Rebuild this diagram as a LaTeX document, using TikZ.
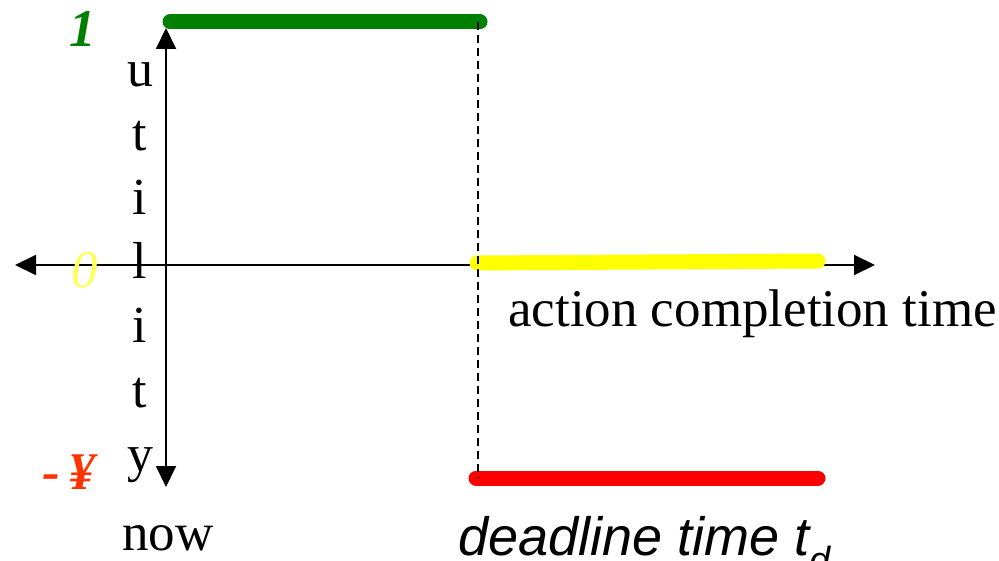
\documentclass[tikz,border=0pt]{standalone}
\usepackage{fontspec}
\setmainfont{Liberation Serif}
\newfontfamily\arialfont{Liberation Sans}
\usetikzlibrary{arrows.meta}
\definecolor{levelgreen}{RGB}{0,128,0}
\definecolor{levelyellow}{RGB}{255,255,0}
\definecolor{zeroyellow}{RGB}{255,255,90}
\definecolor{levelred}{RGB}{255,0,0}
\definecolor{labelred}{RGB}{255,51,0}
\tikzset{
  axis/.style={line width=2pt,-{Triangle[length=21pt,width=20pt]}},
  level/.style={line width=15pt,line cap=round},
  txt/.style={inner sep=0pt,anchor=base west,font=\fontsize{53}{60}\selectfont},
  letter/.style={inner sep=0pt,anchor=base,font=\fontsize{52}{60}\selectfont},
}
\begin{document}
\begin{tikzpicture}[x=1pt,y=-1pt]
\useasboundingbox (0,0) rectangle (999,561);
% axes
\coordinate (origin) at (166,265);
\coordinate (ytop) at (166,28);
\coordinate (ybot) at (166,487);
\coordinate (xleft) at (15,265);
\coordinate (xright) at (875,265);
\draw[axis] (origin) -- (ytop);
\draw[axis] (origin) -- (ybot);
\draw[axis] (origin) -- (xleft);
\draw[axis] (origin) -- (xright);
% utility levels
\coordinate (g1) at (170,22);
\coordinate (g2) at (480,22);
\coordinate (y1) at (477,263);
\coordinate (y2) at (818,261);
\coordinate (r1) at (476,478);
\coordinate (r2) at (818,478);
\draw[level,levelgreen] (g1) -- (g2);
\draw[level,levelyellow] (y1) -- (y2);
\draw[level,levelred] (r1) -- (r2);
% deadline marker
\coordinate (d1) at (478,22);
\coordinate (d2) at (478,478);
\draw[line width=1.2pt,dash pattern=on 8pt off 5pt] (d1) -- (d2);
% vertical axis label
\foreach \ch [count=\i from 0] in {u,t,i,l,i,t,y}
  \node[letter] (u\i) at (140,87+64*\i) {\ch};
% level values
\node[txt,text=levelgreen,font=\fontsize{53}{60}\selectfont\bfseries\itshape] (one) at (69,47) {1};
\node[txt,text=zeroyellow,font=\fontsize{53}{60}\selectfont\itshape] (zero) at (71,288) {0};
\node[txt,text=labelred,font=\fontsize{53}{60}\selectfont\bfseries\itshape] (neg) at (42,489) {-\hspace{9pt}¥};
% axis annotations
\node[txt] (now) at (122,550) {now};
\node[txt] (act) at (508,327) {action completion time};
\node[txt,font=\fontsize{54}{60}\selectfont\arialfont\itshape] (dl) at (458,555) {deadline time t\textsubscript{d}};
\end{tikzpicture}
\end{document}
